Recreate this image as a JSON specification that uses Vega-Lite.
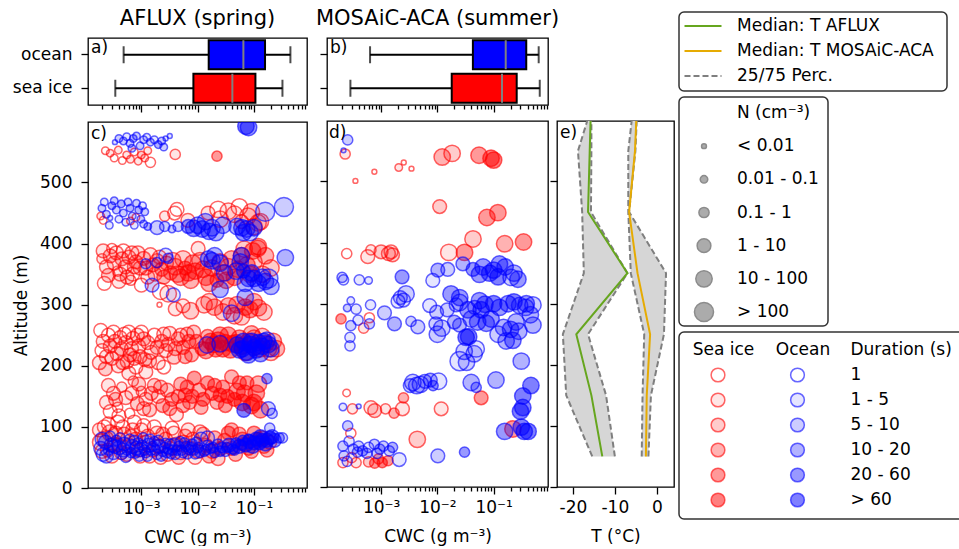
{
"$schema":"https://vega.github.io/schema/vega-lite/v6.json",
"background":"white",
"padding":{"left":11,"top":8,"right":0,"bottom":0},
"config":{
 "font":"DejaVu Sans",
 "view":{"stroke":"black","strokeWidth":1.3},
 "axis":{"labelFontSize":17,"titleFontSize":17,"titleFontWeight":"normal","labelColor":"black","titleColor":"black","tickColor":"black","tickWidth":1.3,"domain":false,"grid":false},
 "text":{"fontSize":17,"color":"black"}
},
"datasets":{
"box":[
{"c":"AFLUX","s":"ocean","lo":0.000485,"q1":0.0157,"med":0.0648,"q3":0.157,"hi":0.443},
{"c":"AFLUX","s":"sea ice","lo":0.000345,"q1":0.0084,"med":0.0413,"q3":0.106,"hi":0.32},
{"c":"MOSAiC","s":"ocean","lo":0.000637,"q1":0.0428,"med":0.164,"q3":0.38,"hi":0.632},
{"c":"MOSAiC","s":"sea ice","lo":0.000285,"q1":0.018,"med":0.141,"q3":0.257,"hi":0.66}
],
"tprof":[
{"camp":"AFLUX","alt":50,"med":-13.0,"p25":-15.4,"p75":-10.0},
{"camp":"AFLUX","alt":150,"med":-15.6,"p25":-21.6,"p75":-12.1},
{"camp":"AFLUX","alt":250,"med":-19.2,"p25":-22.4,"p75":-16.4},
{"camp":"AFLUX","alt":350,"med":-7.0,"p25":-17.4,"p75":-7.0},
{"camp":"AFLUX","alt":450,"med":-16.4,"p25":-17.8,"p75":-15.7},
{"camp":"AFLUX","alt":550,"med":-16.0,"p25":-18.8,"p75":-15.6},
{"camp":"AFLUX","alt":599,"med":-15.8,"p25":-16.6,"p75":-15.6},
{"camp":"MOSAiC-ACA","alt":50,"med":-2.6,"p25":-3.6,"p75":-2.0},
{"camp":"MOSAiC-ACA","alt":150,"med":-2.4,"p25":-3.4,"p75":-1.4},
{"camp":"MOSAiC-ACA","alt":250,"med":-1.6,"p25":-3.0,"p75":1.7},
{"camp":"MOSAiC-ACA","alt":350,"med":-4.6,"p25":-6.2,"p75":2.2},
{"camp":"MOSAiC-ACA","alt":450,"med":-6.6,"p25":-6.8,"p75":-6.6},
{"camp":"MOSAiC-ACA","alt":550,"med":-5.2,"p25":-6.8,"p75":-5.1},
{"camp":"MOSAiC-ACA","alt":599,"med":-4.9,"p25":-6.0,"p75":-4.8}
],
"cpts":[
{"s":"i","x":2.3e-4,"y":552,"n":2,"d":1},{"s":"i","x":2.8e-4,"y":548,"n":2,"d":2},{"s":"i","x":3.3e-4,"y":540,"n":2,"d":1},{"s":"i","x":3.9e-4,"y":553,"n":2,"d":2},{"s":"i","x":4.6e-4,"y":536,"n":2,"d":1},{"s":"i","x":5.5e-4,"y":545,"n":2,"d":2},{"s":"i","x":6.4e-4,"y":538,"n":2,"d":2},{"s":"i","x":7.5e-4,"y":550,"n":2,"d":1},{"s":"i","x":8.8e-4,"y":535,"n":2,"d":2},{"s":"i","x":1.0e-3,"y":545,"n":2,"d":3},{"s":"i","x":1.15e-3,"y":540,"n":2,"d":2},{"s":"i","x":1.3e-3,"y":552,"n":2,"d":2},{"s":"i","x":1.45e-3,"y":533,"n":3,"d":1},{"s":"i","x":4.0e-3,"y":546,"n":3,"d":2},{"s":"i","x":0.022,"y":543,"n":3,"d":5},
{"s":"i","x":1.9e-4,"y":445,"n":2,"d":2},{"s":"i","x":2.1e-4,"y":438,"n":2,"d":1},{"s":"i","x":6.4e-4,"y":437,"n":2,"d":2},{"s":"i","x":8.0e-4,"y":443,"n":2,"d":1},{"s":"i","x":2.6e-3,"y":445,"n":3,"d":2},{"s":"i","x":3.9e-3,"y":450,"n":4,"d":1},{"s":"i","x":4.3e-3,"y":456,"n":4,"d":1},{"s":"i","x":6.7e-3,"y":438,"n":4,"d":2},{"s":"i","x":0.0153,"y":450,"n":4,"d":2},{"s":"i","x":0.023,"y":456,"n":5,"d":1},{"s":"i","x":0.035,"y":453,"n":5,"d":2},{"s":"i","x":0.06,"y":436,"n":4,"d":3},{"s":"i","x":0.078,"y":445,"n":5,"d":2},{"s":"i","x":0.118,"y":434,"n":5,"d":2},{"s":"i","x":0.13,"y":436,"n":5,"d":3},
{"s":"i","x":0.025,"y":440,"n":5,"d":2},{"s":"i","x":0.045,"y":448,"n":5,"d":2},{"s":"i","x":0.09,"y":452,"n":5,"d":3},{"s":"i","x":0.1,"y":428,"n":5,"d":3},{"s":"i","x":0.055,"y":460,"n":5,"d":1},
{"s":"i","x":2.0e-4,"y":375,"n":3,"d":2},{"s":"i","x":2.4e-4,"y":362,"n":4,"d":2},{"s":"i","x":2.8e-4,"y":380,"n":4,"d":3},{"s":"i","x":3.3e-4,"y":368,"n":4,"d":2},{"s":"i","x":3.8e-4,"y":355,"n":3,"d":1},{"s":"i","x":4.5e-4,"y":375,"n":4,"d":3},{"s":"i","x":5.2e-4,"y":362,"n":4,"d":2},{"s":"i","x":6.0e-4,"y":378,"n":4,"d":2},{"s":"i","x":7.0e-4,"y":350,"n":4,"d":1},{"s":"i","x":8.0e-4,"y":370,"n":4,"d":3},{"s":"i","x":9.5e-4,"y":360,"n":4,"d":2},{"s":"i","x":1.1e-3,"y":376,"n":4,"d":3},{"s":"i","x":1.3e-3,"y":345,"n":4,"d":2},{"s":"i","x":1.6e-3,"y":365,"n":4,"d":4},{"s":"i","x":1.9e-3,"y":372,"n":4,"d":3},{"s":"i","x":2.3e-3,"y":358,"n":4,"d":4},{"s":"i","x":2.8e-3,"y":368,"n":4,"d":3},{"s":"i","x":3.3e-3,"y":352,"n":4,"d":4},{"s":"i","x":4.0e-3,"y":362,"n":5,"d":3},{"s":"i","x":5.0e-3,"y":345,"n":5,"d":4},{"s":"i","x":6.0e-3,"y":360,"n":4,"d":5},{"s":"i","x":7.5e-3,"y":340,"n":5,"d":4},{"s":"i","x":9.0e-3,"y":355,"n":5,"d":5},{"s":"i","x":0.011,"y":372,"n":5,"d":3},{"s":"i","x":0.014,"y":345,"n":5,"d":5},{"s":"i","x":0.018,"y":360,"n":5,"d":4},{"s":"i","x":0.022,"y":340,"n":4,"d":5},{"s":"i","x":0.028,"y":352,"n":5,"d":4},{"s":"i","x":0.035,"y":362,"n":5,"d":3},{"s":"i","x":0.045,"y":345,"n":5,"d":5},{"s":"i","x":0.06,"y":380,"n":5,"d":4},{"s":"i","x":0.075,"y":365,"n":5,"d":5},{"s":"i","x":0.095,"y":388,"n":5,"d":5},{"s":"i","x":0.12,"y":395,"n":5,"d":4},{"s":"i","x":0.14,"y":350,"n":5,"d":3},{"s":"i","x":2.2e-4,"y":335,"n":4,"d":1},{"s":"i","x":4.0e-4,"y":338,"n":4,"d":2},{"s":"i","x":1.0e-3,"y":332,"n":4,"d":1},{"s":"i","x":6.5e-4,"y":340,"n":3,"d":1},{"s":"i","x":2.2e-3,"y":322,"n":5,"d":1},{"s":"i","x":3.0e-3,"y":318,"n":5,"d":2},{"s":"i","x":0.0102,"y":392,"n":4,"d":2},{"s":"i","x":0.067,"y":391,"n":5,"d":3},{"s":"i","x":0.117,"y":392,"n":5,"d":4},{"s":"i","x":2.1e-3,"y":300,"n":1,"d":1},
{"s":"i","x":2.1e-4,"y":388,"n":4,"d":2},{"s":"i","x":2.6e-4,"y":348,"n":4,"d":3},{"s":"i","x":3.0e-4,"y":392,"n":3,"d":1},{"s":"i","x":3.6e-4,"y":385,"n":4,"d":2},{"s":"i","x":4.2e-4,"y":350,"n":4,"d":2},{"s":"i","x":4.8e-4,"y":388,"n":4,"d":1},{"s":"i","x":5.6e-4,"y":345,"n":4,"d":3},{"s":"i","x":6.8e-4,"y":385,"n":4,"d":2},{"s":"i","x":7.5e-4,"y":362,"n":4,"d":3},{"s":"i","x":8.7e-4,"y":385,"n":4,"d":2},{"s":"i","x":1.2e-3,"y":360,"n":4,"d":3},{"s":"i","x":1.45e-3,"y":382,"n":4,"d":2},{"s":"i","x":1.75e-3,"y":350,"n":4,"d":3},{"s":"i","x":2.1e-3,"y":378,"n":4,"d":2},{"s":"i","x":2.5e-3,"y":345,"n":4,"d":4},{"s":"i","x":3.6e-3,"y":372,"n":5,"d":3},{"s":"i","x":4.4e-3,"y":350,"n":5,"d":4},{"s":"i","x":5.5e-3,"y":375,"n":5,"d":3},{"s":"i","x":6.8e-3,"y":352,"n":5,"d":5},{"s":"i","x":8.2e-3,"y":368,"n":5,"d":4},{"s":"i","x":0.0125,"y":358,"n":5,"d":4},{"s":"i","x":0.016,"y":335,"n":5,"d":4},{"s":"i","x":0.025,"y":370,"n":5,"d":4},{"s":"i","x":0.032,"y":340,"n":5,"d":5},{"s":"i","x":0.04,"y":375,"n":5,"d":4},{"s":"i","x":0.052,"y":358,"n":5,"d":5},{"s":"i","x":0.085,"y":350,"n":5,"d":4},{"s":"i","x":0.1,"y":370,"n":5,"d":3},{"s":"i","x":0.16,"y":380,"n":5,"d":4},{"s":"i","x":0.2,"y":360,"n":5,"d":3},
{"s":"i","x":4.0e-3,"y":293,"n":4,"d":2},{"s":"i","x":5.5e-3,"y":298,"n":4,"d":2},{"s":"i","x":7.5e-3,"y":290,"n":5,"d":3},{"s":"i","x":0.013,"y":300,"n":5,"d":3},{"s":"i","x":0.02,"y":296,"n":5,"d":4},{"s":"i","x":0.028,"y":288,"n":5,"d":3},{"s":"i","x":0.05,"y":300,"n":5,"d":4},{"s":"i","x":0.085,"y":292,"n":5,"d":5},{"s":"i","x":0.12,"y":295,"n":5,"d":4},{"s":"i","x":0.06,"y":280,"n":5,"d":3},
{"s":"i","x":0.016,"y":305,"n":5,"d":3},{"s":"i","x":0.035,"y":298,"n":5,"d":4},{"s":"i","x":0.1,"y":305,"n":5,"d":4},{"s":"i","x":0.15,"y":288,"n":5,"d":3},{"s":"i","x":0.07,"y":296,"n":5,"d":5},{"s":"i","x":0.045,"y":282,"n":5,"d":3},
{"s":"i","x":1.8e-4,"y":205,"n":4,"d":2},{"s":"i","x":2.0e-4,"y":225,"n":4,"d":1},{"s":"i","x":2.3e-4,"y":195,"n":4,"d":3},{"s":"i","x":2.6e-4,"y":250,"n":4,"d":1},{"s":"i","x":3.0e-4,"y":212,"n":4,"d":2},{"s":"i","x":3.4e-4,"y":240,"n":4,"d":2},{"s":"i","x":3.9e-4,"y":200,"n":4,"d":2},{"s":"i","x":4.4e-4,"y":228,"n":4,"d":3},{"s":"i","x":5.0e-4,"y":252,"n":4,"d":1},{"s":"i","x":5.6e-4,"y":207,"n":4,"d":2},{"s":"i","x":6.3e-4,"y":218,"n":4,"d":3},{"s":"i","x":7.1e-4,"y":245,"n":4,"d":2},{"s":"i","x":8.0e-4,"y":198,"n":4,"d":1},{"s":"i","x":9.0e-4,"y":232,"n":4,"d":2},{"s":"i","x":1.0e-3,"y":255,"n":4,"d":1},{"s":"i","x":1.15e-3,"y":210,"n":4,"d":3},{"s":"i","x":1.3e-3,"y":238,"n":4,"d":2},{"s":"i","x":1.5e-3,"y":222,"n":4,"d":2},{"s":"i","x":1.7e-3,"y":250,"n":4,"d":1},{"s":"i","x":2.0e-3,"y":205,"n":4,"d":2},{"s":"i","x":2.3e-3,"y":240,"n":4,"d":3},{"s":"i","x":2.7e-3,"y":225,"n":4,"d":2},{"s":"i","x":3.2e-3,"y":253,"n":4,"d":2},{"s":"i","x":3.8e-3,"y":214,"n":4,"d":3},{"s":"i","x":4.5e-3,"y":244,"n":4,"d":3},{"s":"i","x":5.5e-3,"y":230,"n":4,"d":4},{"s":"i","x":6.5e-3,"y":252,"n":4,"d":3},{"s":"i","x":7.8e-3,"y":218,"n":4,"d":4},{"s":"i","x":9.5e-3,"y":240,"n":4,"d":5},{"s":"i","x":0.012,"y":228,"n":4,"d":5},{"s":"i","x":0.015,"y":248,"n":4,"d":4},{"s":"i","x":0.019,"y":235,"n":5,"d":6},{"s":"i","x":0.023,"y":242,"n":5,"d":6},{"s":"i","x":0.028,"y":228,"n":5,"d":6},{"s":"i","x":0.035,"y":250,"n":5,"d":5},{"s":"i","x":0.042,"y":236,"n":5,"d":6},{"s":"i","x":0.055,"y":245,"n":5,"d":5},{"s":"i","x":0.07,"y":222,"n":5,"d":4},{"s":"i","x":0.09,"y":252,"n":5,"d":4},{"s":"i","x":0.11,"y":232,"n":5,"d":4},{"s":"i","x":0.14,"y":248,"n":5,"d":3},{"s":"i","x":0.18,"y":228,"n":5,"d":3},{"s":"i","x":0.22,"y":240,"n":5,"d":4},{"s":"i","x":0.2,"y":222,"n":5,"d":3},{"s":"i","x":2.1e-4,"y":240,"n":4,"d":2},{"s":"i","x":1.2e-3,"y":190,"n":4,"d":2},{"s":"i","x":6.0e-4,"y":188,"n":4,"d":2},{"s":"i","x":2.5e-3,"y":198,"n":4,"d":1},
{"s":"i","x":1.9e-4,"y":258,"n":4,"d":1},{"s":"i","x":2.4e-4,"y":215,"n":4,"d":2},{"s":"i","x":2.8e-4,"y":232,"n":4,"d":3},{"s":"i","x":3.2e-4,"y":255,"n":4,"d":1},{"s":"i","x":3.7e-4,"y":220,"n":4,"d":2},{"s":"i","x":4.2e-4,"y":246,"n":4,"d":2},{"s":"i","x":4.7e-4,"y":205,"n":4,"d":3},{"s":"i","x":5.3e-4,"y":238,"n":4,"d":2},{"s":"i","x":6.0e-4,"y":255,"n":4,"d":1},{"s":"i","x":6.7e-4,"y":228,"n":4,"d":2},{"s":"i","x":7.5e-4,"y":212,"n":4,"d":3},{"s":"i","x":8.5e-4,"y":250,"n":4,"d":2},{"s":"i","x":9.5e-4,"y":215,"n":4,"d":2},{"s":"i","x":1.1e-3,"y":244,"n":4,"d":3},{"s":"i","x":1.4e-3,"y":208,"n":4,"d":2},{"s":"i","x":1.9e-3,"y":230,"n":4,"d":3},{"s":"i","x":2.5e-3,"y":252,"n":4,"d":2},{"s":"i","x":3.0e-3,"y":235,"n":4,"d":3},{"s":"i","x":4.0e-3,"y":228,"n":4,"d":3},{"s":"i","x":5.0e-3,"y":250,"n":4,"d":2},{"s":"i","x":6.0e-3,"y":215,"n":4,"d":4},{"s":"i","x":7.0e-3,"y":240,"n":4,"d":4},{"s":"i","x":0.0085,"y":255,"n":4,"d":3},{"s":"i","x":0.014,"y":225,"n":5,"d":5},{"s":"i","x":0.017,"y":240,"n":5,"d":6},{"s":"i","x":0.021,"y":228,"n":5,"d":6},{"s":"i","x":0.025,"y":250,"n":5,"d":5},{"s":"i","x":0.031,"y":238,"n":5,"d":6},{"s":"i","x":0.038,"y":226,"n":5,"d":6},{"s":"i","x":0.048,"y":238,"n":5,"d":5},{"s":"i","x":0.06,"y":232,"n":5,"d":6},{"s":"i","x":0.08,"y":240,"n":5,"d":5},{"s":"i","x":0.1,"y":245,"n":5,"d":4},{"s":"i","x":0.13,"y":228,"n":5,"d":4},{"s":"i","x":0.16,"y":236,"n":5,"d":4},{"s":"i","x":0.25,"y":228,"n":5,"d":4},
{"s":"i","x":2.4e-4,"y":140,"n":4,"d":2},{"s":"i","x":2.8e-4,"y":125,"n":4,"d":1},{"s":"i","x":3.2e-4,"y":155,"n":4,"d":2},{"s":"i","x":3.8e-4,"y":132,"n":3,"d":1},{"s":"i","x":4.5e-4,"y":165,"n":3,"d":2},{"s":"i","x":5.3e-4,"y":148,"n":4,"d":2},{"s":"i","x":6.2e-4,"y":122,"n":3,"d":1},{"s":"i","x":7.2e-4,"y":175,"n":3,"d":2},{"s":"i","x":8.5e-4,"y":138,"n":4,"d":3},{"s":"i","x":1.0e-3,"y":158,"n":3,"d":2},{"s":"i","x":1.2e-3,"y":145,"n":4,"d":2},{"s":"i","x":1.4e-3,"y":128,"n":4,"d":3},{"s":"i","x":1.7e-3,"y":168,"n":4,"d":3},{"s":"i","x":2.0e-3,"y":150,"n":4,"d":2},{"s":"i","x":2.4e-3,"y":135,"n":4,"d":4},{"s":"i","x":2.9e-3,"y":160,"n":4,"d":3},{"s":"i","x":3.5e-3,"y":145,"n":4,"d":4},{"s":"i","x":4.2e-3,"y":120,"n":4,"d":2},{"s":"i","x":5.0e-3,"y":170,"n":4,"d":4},{"s":"i","x":6.0e-3,"y":152,"n":4,"d":4},{"s":"i","x":7.2e-3,"y":140,"n":4,"d":4},{"s":"i","x":8.7e-3,"y":180,"n":4,"d":5},{"s":"i","x":0.0105,"y":160,"n":4,"d":4},{"s":"i","x":0.0125,"y":145,"n":4,"d":6},{"s":"i","x":0.015,"y":172,"n":4,"d":5},{"s":"i","x":0.018,"y":155,"n":4,"d":5},{"s":"i","x":0.022,"y":140,"n":4,"d":4},{"s":"i","x":0.028,"y":165,"n":4,"d":5},{"s":"i","x":0.034,"y":150,"n":4,"d":6},{"s":"i","x":0.04,"y":182,"n":4,"d":4},{"s":"i","x":0.05,"y":158,"n":5,"d":5},{"s":"i","x":0.062,"y":140,"n":5,"d":6},{"s":"i","x":0.075,"y":172,"n":4,"d":5},{"s":"i","x":0.09,"y":135,"n":5,"d":6},{"s":"i","x":0.11,"y":155,"n":5,"d":5},{"s":"i","x":0.13,"y":128,"n":5,"d":5},{"s":"i","x":0.04,"y":95,"n":4,"d":4},
{"s":"i","x":2.6e-4,"y":168,"n":4,"d":2},{"s":"i","x":3.5e-4,"y":145,"n":4,"d":3},{"s":"i","x":4.0e-4,"y":118,"n":4,"d":1},{"s":"i","x":6.8e-4,"y":155,"n":4,"d":2},{"s":"i","x":9.0e-4,"y":170,"n":4,"d":3},{"s":"i","x":1.1e-3,"y":130,"n":4,"d":2},{"s":"i","x":1.5e-3,"y":155,"n":4,"d":3},{"s":"i","x":2.2e-3,"y":165,"n":4,"d":3},{"s":"i","x":3.2e-3,"y":130,"n":4,"d":4},{"s":"i","x":4.5e-3,"y":150,"n":4,"d":4},{"s":"i","x":5.5e-3,"y":135,"n":4,"d":4},{"s":"i","x":6.5e-3,"y":165,"n":4,"d":5},{"s":"i","x":8.0e-3,"y":150,"n":4,"d":5},{"s":"i","x":0.0115,"y":132,"n":4,"d":4},{"s":"i","x":0.02,"y":168,"n":4,"d":5},{"s":"i","x":0.025,"y":152,"n":4,"d":6},{"s":"i","x":0.031,"y":135,"n":4,"d":5},{"s":"i","x":0.045,"y":145,"n":4,"d":6},{"s":"i","x":0.055,"y":172,"n":4,"d":5},{"s":"i","x":0.068,"y":155,"n":5,"d":5},{"s":"i","x":0.1,"y":140,"n":5,"d":6},{"s":"i","x":0.12,"y":170,"n":5,"d":4},
{"s":"i","x":1.8e-4,"y":95,"n":4,"d":2},{"s":"i","x":2.0e-4,"y":60,"n":4,"d":1},{"s":"i","x":2.3e-4,"y":80,"n":5,"d":2},{"s":"i","x":2.6e-4,"y":105,"n":4,"d":1},{"s":"i","x":3.0e-4,"y":52,"n":4,"d":2},{"s":"i","x":3.5e-4,"y":90,"n":4,"d":2},{"s":"i","x":4.0e-4,"y":70,"n":4,"d":3},{"s":"i","x":4.7e-4,"y":100,"n":4,"d":1},{"s":"i","x":5.5e-4,"y":55,"n":4,"d":2},{"s":"i","x":6.5e-4,"y":85,"n":4,"d":2},{"s":"i","x":7.5e-4,"y":108,"n":4,"d":1},{"s":"i","x":8.8e-4,"y":62,"n":4,"d":3},{"s":"i","x":1.0e-3,"y":95,"n":4,"d":2},{"s":"i","x":1.2e-3,"y":75,"n":4,"d":2},{"s":"i","x":1.4e-3,"y":52,"n":4,"d":2},{"s":"i","x":1.7e-3,"y":100,"n":4,"d":1},{"s":"i","x":2.0e-3,"y":68,"n":4,"d":2},{"s":"i","x":2.4e-3,"y":88,"n":4,"d":3},{"s":"i","x":2.9e-3,"y":55,"n":4,"d":2},{"s":"i","x":3.5e-3,"y":98,"n":4,"d":1},{"s":"i","x":4.2e-3,"y":72,"n":4,"d":3},{"s":"i","x":5.0e-3,"y":58,"n":4,"d":2},{"s":"i","x":6.0e-3,"y":85,"n":4,"d":3},{"s":"i","x":7.5e-3,"y":65,"n":4,"d":3},{"s":"i","x":9.0e-3,"y":50,"n":4,"d":2},{"s":"i","x":0.011,"y":92,"n":4,"d":2},{"s":"i","x":0.014,"y":70,"n":4,"d":4},{"s":"i","x":0.018,"y":60,"n":4,"d":3},{"s":"i","x":0.023,"y":48,"n":4,"d":3},{"s":"i","x":0.03,"y":78,"n":4,"d":4},{"s":"i","x":0.04,"y":65,"n":4,"d":5},{"s":"i","x":0.055,"y":88,"n":4,"d":4},{"s":"i","x":0.07,"y":72,"n":4,"d":5},{"s":"i","x":0.09,"y":60,"n":4,"d":4},{"s":"i","x":0.12,"y":80,"n":4,"d":5},{"s":"i","x":0.15,"y":68,"n":4,"d":4},{"s":"i","x":0.19,"y":75,"n":4,"d":3},
{"s":"i","x":1.9e-4,"y":75,"n":5,"d":2},{"s":"i","x":2.2e-4,"y":100,"n":4,"d":1},{"s":"i","x":2.5e-4,"y":62,"n":4,"d":2},{"s":"i","x":2.8e-4,"y":90,"n":5,"d":3},{"s":"i","x":3.3e-4,"y":72,"n":4,"d":2},{"s":"i","x":3.8e-4,"y":108,"n":4,"d":1},{"s":"i","x":4.4e-4,"y":58,"n":4,"d":2},{"s":"i","x":5.0e-4,"y":88,"n":4,"d":3},{"s":"i","x":6.0e-4,"y":70,"n":4,"d":2},{"s":"i","x":7.0e-4,"y":95,"n":4,"d":2},{"s":"i","x":8.0e-4,"y":80,"n":4,"d":3},{"s":"i","x":9.5e-4,"y":52,"n":4,"d":2},{"s":"i","x":1.1e-3,"y":102,"n":4,"d":1},{"s":"i","x":1.3e-3,"y":85,"n":4,"d":2},{"s":"i","x":1.6e-3,"y":62,"n":4,"d":3},{"s":"i","x":1.9e-3,"y":90,"n":4,"d":2},{"s":"i","x":2.2e-3,"y":50,"n":4,"d":2},{"s":"i","x":2.7e-3,"y":80,"n":4,"d":3},{"s":"i","x":3.2e-3,"y":65,"n":4,"d":2},{"s":"i","x":3.8e-3,"y":90,"n":4,"d":2},{"s":"i","x":4.6e-3,"y":50,"n":4,"d":3},{"s":"i","x":5.5e-3,"y":75,"n":4,"d":3},{"s":"i","x":6.8e-3,"y":95,"n":4,"d":2},{"s":"i","x":8.2e-3,"y":80,"n":4,"d":3},{"s":"i","x":0.01,"y":60,"n":4,"d":3},{"s":"i","x":0.0125,"y":88,"n":4,"d":3},{"s":"i","x":0.016,"y":52,"n":4,"d":4},{"s":"i","x":0.02,"y":82,"n":4,"d":4},{"s":"i","x":0.026,"y":65,"n":4,"d":4},{"s":"i","x":0.035,"y":90,"n":4,"d":5},{"s":"i","x":0.047,"y":55,"n":4,"d":4},{"s":"i","x":0.062,"y":80,"n":4,"d":5},{"s":"i","x":0.08,"y":65,"n":4,"d":5},{"s":"i","x":0.1,"y":90,"n":4,"d":5},{"s":"i","x":0.14,"y":82,"n":4,"d":4},{"s":"i","x":0.17,"y":62,"n":4,"d":4},
{"s":"o","x":3.4e-4,"y":566,"n":1,"d":2},{"s":"o","x":4.0e-4,"y":572,"n":2,"d":3},{"s":"o","x":4.8e-4,"y":568,"n":2,"d":3},{"s":"o","x":5.5e-4,"y":575,"n":2,"d":2},{"s":"o","x":6.3e-4,"y":564,"n":2,"d":3},{"s":"o","x":7.2e-4,"y":572,"n":2,"d":4},{"s":"o","x":8.2e-4,"y":576,"n":2,"d":3},{"s":"o","x":9.5e-4,"y":560,"n":2,"d":3},{"s":"o","x":1.1e-3,"y":570,"n":2,"d":3},{"s":"o","x":1.25e-3,"y":574,"n":2,"d":2},{"s":"o","x":1.45e-3,"y":566,"n":2,"d":3},{"s":"o","x":1.7e-3,"y":570,"n":2,"d":2},{"s":"o","x":2.0e-3,"y":562,"n":2,"d":4},{"s":"o","x":2.3e-3,"y":568,"n":2,"d":3},{"s":"o","x":2.7e-3,"y":572,"n":1,"d":2},{"s":"o","x":3.2e-3,"y":576,"n":1,"d":2},{"s":"o","x":2.5e-3,"y":558,"n":2,"d":3},{"s":"o","x":6.8e-4,"y":556,"n":2,"d":3},{"s":"o","x":0.072,"y":592,"n":5,"d":6},{"s":"o","x":0.08,"y":590,"n":5,"d":5},
{"s":"o","x":2.0e-4,"y":458,"n":2,"d":3},{"s":"o","x":2.2e-4,"y":468,"n":2,"d":2},{"s":"o","x":2.4e-4,"y":448,"n":2,"d":3},{"s":"o","x":2.7e-4,"y":430,"n":2,"d":2},{"s":"o","x":3.0e-4,"y":462,"n":2,"d":4},{"s":"o","x":3.3e-4,"y":470,"n":2,"d":3},{"s":"o","x":3.6e-4,"y":455,"n":2,"d":3},{"s":"o","x":4.0e-4,"y":440,"n":2,"d":2},{"s":"o","x":4.4e-4,"y":465,"n":2,"d":4},{"s":"o","x":4.8e-4,"y":450,"n":2,"d":3},{"s":"o","x":5.3e-4,"y":435,"n":2,"d":2},{"s":"o","x":5.8e-4,"y":468,"n":2,"d":3},{"s":"o","x":6.3e-4,"y":458,"n":2,"d":4},{"s":"o","x":6.9e-4,"y":445,"n":2,"d":3},{"s":"o","x":7.5e-4,"y":430,"n":2,"d":2},{"s":"o","x":8.2e-4,"y":466,"n":2,"d":3},{"s":"o","x":9.0e-4,"y":455,"n":2,"d":4},{"s":"o","x":9.8e-4,"y":440,"n":2,"d":3},{"s":"o","x":1.05e-3,"y":462,"n":2,"d":2},{"s":"o","x":1.15e-3,"y":452,"n":2,"d":3},{"s":"o","x":1.3e-3,"y":428,"n":2,"d":4},{"s":"o","x":1.1e-3,"y":432,"n":2,"d":3},{"s":"o","x":2.8e-4,"y":442,"n":1,"d":2},
{"s":"o","x":1.9e-3,"y":426,"n":4,"d":3},{"s":"o","x":2.6e-3,"y":428,"n":3,"d":3},{"s":"o","x":3.5e-3,"y":424,"n":2,"d":3},{"s":"o","x":4.5e-3,"y":428,"n":3,"d":3},{"s":"o","x":6.8e-3,"y":428,"n":4,"d":5},{"s":"o","x":8.5e-3,"y":425,"n":5,"d":5},{"s":"o","x":0.0137,"y":436,"n":5,"d":4},{"s":"o","x":0.016,"y":420,"n":5,"d":5},{"s":"o","x":0.021,"y":418,"n":5,"d":4},{"s":"o","x":0.018,"y":426,"n":5,"d":3},{"s":"o","x":0.061,"y":426,"n":5,"d":5},{"s":"o","x":0.074,"y":424,"n":5,"d":4},{"s":"o","x":0.085,"y":418,"n":5,"d":3},{"s":"o","x":0.158,"y":452,"n":6,"d":3},{"s":"o","x":0.34,"y":460,"n":6,"d":3},
{"s":"o","x":0.01,"y":430,"n":5,"d":4},{"s":"o","x":0.012,"y":424,"n":5,"d":5},{"s":"o","x":0.028,"y":430,"n":5,"d":4},{"s":"o","x":0.05,"y":428,"n":5,"d":4},{"s":"o","x":0.1,"y":426,"n":5,"d":5},{"s":"o","x":0.065,"y":418,"n":5,"d":5},
{"s":"o","x":1.2e-3,"y":367,"n":3,"d":3},{"s":"o","x":1.9e-3,"y":369,"n":3,"d":3},{"s":"o","x":2.7e-3,"y":381,"n":4,"d":2},{"s":"o","x":3.0e-3,"y":376,"n":3,"d":3},{"s":"o","x":1.55e-3,"y":332,"n":4,"d":3},{"s":"o","x":3.7e-3,"y":316,"n":4,"d":2},{"s":"o","x":0.0157,"y":375,"n":5,"d":5},{"s":"o","x":0.018,"y":372,"n":5,"d":4},{"s":"o","x":0.025,"y":368,"n":5,"d":3},{"s":"o","x":0.057,"y":370,"n":5,"d":4},{"s":"o","x":0.06,"y":380,"n":5,"d":5},{"s":"o","x":0.048,"y":355,"n":5,"d":3},{"s":"o","x":0.08,"y":343,"n":5,"d":5},{"s":"o","x":0.1,"y":343,"n":5,"d":5},{"s":"o","x":0.14,"y":345,"n":5,"d":4},{"s":"o","x":0.18,"y":343,"n":6,"d":3},{"s":"o","x":0.36,"y":377,"n":5,"d":4},{"s":"o","x":0.025,"y":325,"n":5,"d":4},{"s":"o","x":0.07,"y":312,"n":5,"d":4},{"s":"o","x":0.04,"y":286,"n":5,"d":3},{"s":"o","x":0.065,"y":355,"n":4,"d":6},
{"s":"o","x":0.02,"y":380,"n":5,"d":4},{"s":"o","x":0.03,"y":352,"n":5,"d":4},{"s":"o","x":0.09,"y":352,"n":5,"d":5},{"s":"o","x":0.12,"y":335,"n":5,"d":5},{"s":"o","x":0.16,"y":338,"n":5,"d":5},{"s":"o","x":0.07,"y":335,"n":5,"d":4},{"s":"o","x":0.2,"y":330,"n":5,"d":4},
{"s":"o","x":0.0147,"y":234,"n":5,"d":3},{"s":"o","x":0.05,"y":234,"n":5,"d":5},{"s":"o","x":0.062,"y":228,"n":5,"d":6},{"s":"o","x":0.075,"y":222,"n":5,"d":6},{"s":"o","x":0.085,"y":235,"n":5,"d":6},{"s":"o","x":0.1,"y":230,"n":5,"d":6},{"s":"o","x":0.12,"y":238,"n":5,"d":5},{"s":"o","x":0.14,"y":232,"n":5,"d":6},{"s":"o","x":0.17,"y":242,"n":5,"d":4},{"s":"o","x":0.18,"y":235,"n":5,"d":5},{"s":"o","x":0.2,"y":228,"n":5,"d":5},{"s":"o","x":0.065,"y":240,"n":5,"d":6},{"s":"o","x":0.08,"y":218,"n":5,"d":5},
{"s":"o","x":0.055,"y":226,"n":5,"d":6},{"s":"o","x":0.09,"y":240,"n":5,"d":6},{"s":"o","x":0.11,"y":226,"n":5,"d":6},{"s":"o","x":0.15,"y":240,"n":5,"d":6},{"s":"o","x":0.13,"y":220,"n":5,"d":5},{"s":"o","x":0.025,"y":236,"n":5,"d":3},
{"s":"o","x":0.17,"y":179,"n":3,"d":5},{"s":"o","x":0.066,"y":127,"n":4,"d":6},{"s":"o","x":0.18,"y":130,"n":4,"d":3},{"s":"o","x":0.21,"y":122,"n":3,"d":3},{"s":"o","x":0.19,"y":98,"n":3,"d":3},
{"s":"o","x":1.9e-4,"y":65,"n":4,"d":3},{"s":"o","x":2.1e-4,"y":55,"n":4,"d":2},{"s":"o","x":2.3e-4,"y":75,"n":4,"d":4},{"s":"o","x":2.6e-4,"y":62,"n":3,"d":3},{"s":"o","x":2.9e-4,"y":70,"n":4,"d":2},{"s":"o","x":3.2e-4,"y":58,"n":4,"d":3},{"s":"o","x":3.6e-4,"y":78,"n":3,"d":4},{"s":"o","x":4.0e-4,"y":66,"n":4,"d":3},{"s":"o","x":4.5e-4,"y":55,"n":3,"d":2},{"s":"o","x":5.0e-4,"y":72,"n":4,"d":4},{"s":"o","x":5.6e-4,"y":62,"n":3,"d":3},{"s":"o","x":6.2e-4,"y":80,"n":3,"d":2},{"s":"o","x":7.0e-4,"y":68,"n":4,"d":3},{"s":"o","x":7.8e-4,"y":57,"n":3,"d":4},{"s":"o","x":8.7e-4,"y":74,"n":3,"d":3},{"s":"o","x":9.7e-4,"y":63,"n":4,"d":2},{"s":"o","x":1.08e-3,"y":82,"n":3,"d":3},{"s":"o","x":1.2e-3,"y":58,"n":3,"d":4},{"s":"o","x":1.35e-3,"y":70,"n":4,"d":3},{"s":"o","x":1.5e-3,"y":62,"n":3,"d":3},{"s":"o","x":1.7e-3,"y":76,"n":3,"d":4},{"s":"o","x":1.9e-3,"y":55,"n":3,"d":2},{"s":"o","x":2.1e-3,"y":68,"n":4,"d":3},{"s":"o","x":2.4e-3,"y":60,"n":3,"d":4},{"s":"o","x":2.7e-3,"y":73,"n":3,"d":3},{"s":"o","x":3.0e-3,"y":64,"n":3,"d":3},{"s":"o","x":3.4e-3,"y":56,"n":3,"d":4},{"s":"o","x":3.8e-3,"y":70,"n":4,"d":3},{"s":"o","x":4.3e-3,"y":62,"n":3,"d":4},{"s":"o","x":4.9e-3,"y":76,"n":3,"d":3},{"s":"o","x":5.5e-3,"y":58,"n":3,"d":3},{"s":"o","x":6.2e-3,"y":68,"n":3,"d":4},{"s":"o","x":7.0e-3,"y":63,"n":3,"d":3},{"s":"o","x":8.0e-3,"y":72,"n":3,"d":4},{"s":"o","x":9.0e-3,"y":56,"n":3,"d":3},{"s":"o","x":0.0102,"y":66,"n":3,"d":4},{"s":"o","x":0.0115,"y":80,"n":4,"d":2},{"s":"o","x":0.013,"y":60,"n":3,"d":4},{"s":"o","x":0.015,"y":70,"n":3,"d":3},{"s":"o","x":0.017,"y":65,"n":3,"d":4},{"s":"o","x":0.02,"y":58,"n":3,"d":5},{"s":"o","x":0.023,"y":72,"n":3,"d":4},{"s":"o","x":0.027,"y":66,"n":3,"d":5},{"s":"o","x":0.031,"y":60,"n":3,"d":4},{"s":"o","x":0.036,"y":70,"n":4,"d":5},{"s":"o","x":0.042,"y":64,"n":3,"d":5},{"s":"o","x":0.048,"y":74,"n":3,"d":6},{"s":"o","x":0.055,"y":68,"n":4,"d":5},{"s":"o","x":0.063,"y":78,"n":3,"d":6},{"s":"o","x":0.072,"y":70,"n":4,"d":6},{"s":"o","x":0.083,"y":76,"n":4,"d":5},{"s":"o","x":0.095,"y":68,"n":4,"d":6},{"s":"o","x":0.11,"y":80,"n":4,"d":6},{"s":"o","x":0.125,"y":74,"n":4,"d":6},{"s":"o","x":0.14,"y":78,"n":4,"d":6},{"s":"o","x":0.16,"y":72,"n":4,"d":5},{"s":"o","x":0.19,"y":82,"n":4,"d":6},{"s":"o","x":0.23,"y":78,"n":4,"d":5},{"s":"o","x":0.28,"y":82,"n":3,"d":4},{"s":"o","x":0.32,"y":82,"n":3,"d":3},{"s":"o","x":0.015,"y":82,"n":4,"d":2},
{"s":"o","x":2.0e-4,"y":80,"n":4,"d":3},{"s":"o","x":2.4e-4,"y":52,"n":4,"d":3},{"s":"o","x":2.8e-4,"y":85,"n":3,"d":3},{"s":"o","x":3.4e-4,"y":68,"n":4,"d":4},{"s":"o","x":4.2e-4,"y":82,"n":3,"d":2},{"s":"o","x":4.8e-4,"y":62,"n":4,"d":3},{"s":"o","x":5.3e-4,"y":50,"n":3,"d":3},{"s":"o","x":6.6e-4,"y":58,"n":3,"d":4},{"s":"o","x":7.4e-4,"y":78,"n":3,"d":3},{"s":"o","x":8.2e-4,"y":65,"n":4,"d":3},{"s":"o","x":9.2e-4,"y":52,"n":3,"d":3},{"s":"o","x":1.03e-3,"y":70,"n":3,"d":4},{"s":"o","x":1.15e-3,"y":62,"n":3,"d":3},{"s":"o","x":1.28e-3,"y":52,"n":3,"d":3},{"s":"o","x":1.42e-3,"y":80,"n":3,"d":3},{"s":"o","x":1.6e-3,"y":68,"n":3,"d":4},{"s":"o","x":1.8e-3,"y":62,"n":3,"d":3},{"s":"o","x":2.0e-3,"y":78,"n":3,"d":3},{"s":"o","x":2.25e-3,"y":52,"n":3,"d":4},{"s":"o","x":2.55e-3,"y":66,"n":3,"d":3},{"s":"o","x":2.85e-3,"y":58,"n":3,"d":4},{"s":"o","x":3.2e-3,"y":72,"n":3,"d":3},{"s":"o","x":3.6e-3,"y":62,"n":3,"d":4},{"s":"o","x":4.0e-3,"y":55,"n":3,"d":3},{"s":"o","x":4.6e-3,"y":68,"n":3,"d":4},{"s":"o","x":5.2e-3,"y":62,"n":3,"d":3},{"s":"o","x":5.8e-3,"y":74,"n":3,"d":4},{"s":"o","x":6.6e-3,"y":56,"n":3,"d":4},{"s":"o","x":7.5e-3,"y":66,"n":3,"d":3},{"s":"o","x":8.5e-3,"y":62,"n":3,"d":4},{"s":"o","x":9.5e-3,"y":75,"n":3,"d":4},{"s":"o","x":0.011,"y":58,"n":3,"d":5},{"s":"o","x":0.014,"y":62,"n":3,"d":4},{"s":"o","x":0.019,"y":66,"n":3,"d":5},{"s":"o","x":0.025,"y":60,"n":3,"d":5},{"s":"o","x":0.033,"y":66,"n":3,"d":5},{"s":"o","x":0.045,"y":62,"n":3,"d":6},{"s":"o","x":0.06,"y":70,"n":3,"d":6},{"s":"o","x":0.08,"y":80,"n":3,"d":6},{"s":"o","x":0.1,"y":74,"n":4,"d":6},{"s":"o","x":0.13,"y":84,"n":4,"d":6},{"s":"o","x":0.17,"y":78,"n":4,"d":6},{"s":"o","x":0.21,"y":84,"n":4,"d":5}
],
"dpts":[
{"s":"i","x":2.3e-4,"y":545,"n":3,"d":2},{"s":"i","x":3.5e-4,"y":501,"n":1,"d":1},{"s":"i","x":7.6e-4,"y":516,"n":1,"d":1},{"s":"i","x":2.06e-3,"y":523,"n":2,"d":2},{"s":"i","x":2.53e-3,"y":531,"n":1,"d":1},{"s":"i","x":3.47e-3,"y":521,"n":1,"d":1},{"s":"i","x":0.0122,"y":540,"n":5,"d":4},{"s":"i","x":0.0183,"y":546,"n":5,"d":3},{"s":"i","x":0.055,"y":543,"n":5,"d":5},{"s":"i","x":0.09,"y":538,"n":5,"d":6},{"s":"i","x":0.1,"y":535,"n":5,"d":6},{"s":"i","x":0.011,"y":459,"n":4,"d":3},{"s":"i","x":0.076,"y":441,"n":5,"d":5},{"s":"i","x":0.119,"y":449,"n":5,"d":5},{"s":"i","x":0.043,"y":406,"n":5,"d":3},{"s":"i","x":0.157,"y":398,"n":5,"d":4},{"s":"i","x":0.34,"y":401,"n":5,"d":5},{"s":"i","x":0.016,"y":384,"n":5,"d":2},{"s":"i","x":0.0304,"y":384,"n":5,"d":5},{"s":"i","x":2.45e-4,"y":382,"n":3,"d":1},{"s":"i","x":5.8e-4,"y":377,"n":4,"d":2},{"s":"i","x":6.6e-4,"y":388,"n":3,"d":2},{"s":"i","x":1.0e-3,"y":385,"n":4,"d":3},{"s":"i","x":1.5e-3,"y":385,"n":4,"d":2},{"s":"i","x":1.6e-3,"y":380,"n":4,"d":3},{"s":"i","x":1.35e-3,"y":382,"n":4,"d":2},
{"s":"i","x":1.94e-4,"y":275,"n":3,"d":5},{"s":"i","x":4.9e-4,"y":260,"n":3,"d":2},{"s":"i","x":6.2e-4,"y":277,"n":3,"d":1},
{"s":"i","x":2.44e-4,"y":154,"n":2,"d":1},{"s":"i","x":3.1e-4,"y":128,"n":3,"d":2},{"s":"i","x":6.6e-4,"y":130,"n":4,"d":2},{"s":"i","x":7.7e-4,"y":125,"n":4,"d":3},{"s":"i","x":1.2e-3,"y":128,"n":3,"d":2},{"s":"i","x":1.7e-3,"y":121,"n":3,"d":4},{"s":"i","x":2.4e-3,"y":128,"n":4,"d":2},{"s":"i","x":2.5e-3,"y":146,"n":3,"d":4},{"s":"i","x":0.0117,"y":128,"n":4,"d":2},{"s":"i","x":0.06,"y":146,"n":4,"d":5},{"s":"i","x":4.4e-3,"y":78,"n":5,"d":3},{"s":"i","x":0.22,"y":95,"n":5,"d":5},
{"s":"i","x":2.1e-4,"y":40,"n":3,"d":2},{"s":"i","x":3.6e-4,"y":40,"n":3,"d":2},{"s":"i","x":6.0e-4,"y":41,"n":3,"d":3},{"s":"i","x":7.7e-4,"y":39,"n":3,"d":5},{"s":"i","x":1.05e-3,"y":40,"n":3,"d":6},{"s":"i","x":1.33e-3,"y":43,"n":3,"d":5},{"s":"i","x":3.0e-4,"y":48,"n":3,"d":2},{"s":"i","x":9.0e-4,"y":46,"n":3,"d":4},{"s":"i","x":2.9e-4,"y":88,"n":3,"d":1},
{"s":"o","x":2.55e-4,"y":568,"n":3,"d":3},{"s":"o","x":2.15e-4,"y":551,"n":1,"d":2},
{"s":"o","x":2.03e-4,"y":343,"n":3,"d":3},{"s":"o","x":2.15e-4,"y":339,"n":3,"d":2},{"s":"o","x":4.1e-4,"y":339,"n":3,"d":2},{"s":"o","x":6.0e-4,"y":338,"n":2,"d":2},{"s":"o","x":2.36e-3,"y":344,"n":4,"d":5},{"s":"o","x":2.78e-3,"y":316,"n":5,"d":3},{"s":"o","x":2.2e-3,"y":310,"n":4,"d":3},{"s":"o","x":8.3e-3,"y":338,"n":4,"d":2},{"s":"o","x":0.0102,"y":355,"n":4,"d":4},{"s":"o","x":0.0153,"y":356,"n":4,"d":3},{"s":"o","x":0.0284,"y":365,"n":4,"d":4},{"s":"o","x":0.043,"y":356,"n":4,"d":5},{"s":"o","x":0.056,"y":348,"n":5,"d":5},{"s":"o","x":0.127,"y":365,"n":5,"d":5},{"s":"o","x":0.12,"y":344,"n":5,"d":6},{"s":"o","x":0.205,"y":343,"n":5,"d":3},{"s":"o","x":0.0175,"y":316,"n":5,"d":5},{"s":"o","x":0.025,"y":310,"n":5,"d":5},
{"s":"o","x":2.9e-4,"y":305,"n":2,"d":2},{"s":"o","x":3.6e-4,"y":291,"n":3,"d":2},{"s":"o","x":2.5e-4,"y":293,"n":2,"d":3},{"s":"o","x":6.5e-4,"y":298,"n":3,"d":2},{"s":"o","x":1.15e-3,"y":285,"n":4,"d":3},{"s":"o","x":2.0e-3,"y":304,"n":4,"d":2},{"s":"o","x":2.5e-3,"y":306,"n":4,"d":2},{"s":"o","x":7.3e-3,"y":297,"n":4,"d":2},{"s":"o","x":9.7e-3,"y":286,"n":4,"d":3},{"s":"o","x":0.0216,"y":298,"n":4,"d":3},{"s":"o","x":0.025,"y":302,"n":5,"d":3},{"s":"o","x":0.056,"y":305,"n":5,"d":5},{"s":"o","x":0.07,"y":299,"n":5,"d":5},{"s":"o","x":0.127,"y":294,"n":5,"d":5},{"s":"o","x":0.29,"y":297,"n":5,"d":4},{"s":"o","x":0.37,"y":294,"n":5,"d":3},{"s":"o","x":0.23,"y":303,"n":5,"d":6},{"s":"o","x":0.046,"y":294,"n":4,"d":3},{"s":"o","x":0.5,"y":298,"n":5,"d":3},{"s":"o","x":0.45,"y":282,"n":5,"d":4},
{"s":"o","x":0.065,"y":360,"n":5,"d":5},{"s":"o","x":0.085,"y":350,"n":5,"d":6},{"s":"o","x":0.1,"y":355,"n":5,"d":5},{"s":"o","x":0.16,"y":360,"n":5,"d":5},{"s":"o","x":0.23,"y":350,"n":5,"d":4},{"s":"o","x":0.27,"y":340,"n":5,"d":5},{"s":"o","x":0.18,"y":300,"n":5,"d":5},{"s":"o","x":0.1,"y":300,"n":5,"d":6},{"s":"o","x":0.035,"y":290,"n":5,"d":5},{"s":"o","x":0.04,"y":275,"n":5,"d":4},{"s":"o","x":0.09,"y":275,"n":5,"d":5},{"s":"o","x":0.06,"y":290,"n":5,"d":6},{"s":"o","x":0.25,"y":270,"n":5,"d":4},{"s":"o","x":0.38,"y":300,"n":5,"d":5},{"s":"o","x":0.015,"y":290,"n":4,"d":3},{"s":"o","x":0.012,"y":260,"n":5,"d":3},{"s":"o","x":0.02,"y":270,"n":4,"d":4},{"s":"o","x":0.5,"y":265,"n":5,"d":4},{"s":"o","x":0.22,"y":240,"n":5,"d":5},{"s":"o","x":0.28,"y":255,"n":5,"d":4},{"s":"o","x":0.03,"y":222,"n":5,"d":3},{"s":"o","x":0.045,"y":218,"n":5,"d":3},
{"s":"o","x":2.9e-4,"y":264,"n":3,"d":3},{"s":"o","x":2.8e-4,"y":245,"n":3,"d":2},{"s":"o","x":2.8e-4,"y":231,"n":3,"d":2},{"s":"o","x":6.2e-4,"y":267,"n":3,"d":3},{"s":"o","x":3.9e-4,"y":273,"n":3,"d":2},{"s":"o","x":1.73e-3,"y":267,"n":4,"d":4},{"s":"o","x":3.4e-3,"y":271,"n":3,"d":3},{"s":"o","x":4.5e-3,"y":262,"n":4,"d":3},{"s":"o","x":9.4e-3,"y":267,"n":4,"d":3},{"s":"o","x":0.01,"y":250,"n":5,"d":3},{"s":"o","x":0.0248,"y":265,"n":4,"d":4},{"s":"o","x":0.0325,"y":245,"n":5,"d":6},{"s":"o","x":0.036,"y":246,"n":5,"d":6},{"s":"o","x":0.052,"y":270,"n":5,"d":5},{"s":"o","x":0.074,"y":268,"n":5,"d":5},{"s":"o","x":0.12,"y":250,"n":5,"d":3},{"s":"o","x":0.167,"y":239,"n":5,"d":4},{"s":"o","x":0.2,"y":258,"n":5,"d":5},{"s":"o","x":0.15,"y":261,"n":5,"d":4},{"s":"o","x":0.049,"y":226,"n":5,"d":2},{"s":"o","x":0.0248,"y":206,"n":6,"d":2},{"s":"o","x":0.033,"y":204,"n":5,"d":3},{"s":"o","x":0.31,"y":206,"n":5,"d":4},
{"s":"o","x":3.67e-3,"y":171,"n":5,"d":3},{"s":"o","x":4.3e-3,"y":166,"n":5,"d":3},{"s":"o","x":5.0e-3,"y":168,"n":5,"d":3},{"s":"o","x":6.0e-3,"y":173,"n":4,"d":3},{"s":"o","x":7.5e-3,"y":175,"n":4,"d":4},{"s":"o","x":8.4e-3,"y":166,"n":3,"d":5},{"s":"o","x":0.0105,"y":173,"n":5,"d":2},{"s":"o","x":3.3e-3,"y":166,"n":4,"d":3},{"s":"o","x":0.04,"y":171,"n":5,"d":4},{"s":"o","x":0.049,"y":163,"n":3,"d":4},{"s":"o","x":0.11,"y":175,"n":5,"d":4},{"s":"o","x":0.46,"y":166,"n":5,"d":6},
{"s":"o","x":4.0e-4,"y":132,"n":1,"d":2},{"s":"o","x":2.1e-4,"y":131,"n":2,"d":2},{"s":"o","x":2.55e-4,"y":100,"n":3,"d":3},
{"s":"o","x":0.157,"y":91,"n":5,"d":5},{"s":"o","x":0.31,"y":98,"n":5,"d":6},{"s":"o","x":0.35,"y":91,"n":5,"d":6},{"s":"o","x":0.41,"y":91,"n":5,"d":6},{"s":"o","x":0.33,"y":130,"n":5,"d":6},{"s":"o","x":0.3,"y":124,"n":5,"d":6},{"s":"o","x":0.33,"y":149,"n":5,"d":6},
{"s":"o","x":0.0102,"y":51,"n":4,"d":3},{"s":"o","x":0.0304,"y":57,"n":3,"d":5},
{"s":"o","x":2.1e-4,"y":67,"n":3,"d":3},{"s":"o","x":2.2e-4,"y":51,"n":3,"d":3},{"s":"o","x":2.7e-4,"y":75,"n":3,"d":2},{"s":"o","x":3.2e-4,"y":62,"n":3,"d":3},{"s":"o","x":4.0e-4,"y":67,"n":3,"d":3},{"s":"o","x":4.7e-4,"y":59,"n":3,"d":4},{"s":"o","x":6.0e-4,"y":65,"n":3,"d":2},{"s":"o","x":7.6e-4,"y":70,"n":3,"d":3},{"s":"o","x":9.5e-4,"y":62,"n":3,"d":4},{"s":"o","x":1.1e-3,"y":67,"n":3,"d":3},{"s":"o","x":1.4e-3,"y":59,"n":3,"d":3},{"s":"o","x":1.6e-3,"y":65,"n":3,"d":4},{"s":"o","x":2.1e-3,"y":45,"n":4,"d":2},{"s":"o","x":3.8e-4,"y":57,"n":3,"d":3},{"s":"o","x":5.6e-4,"y":55,"n":3,"d":3},{"s":"o","x":2.5e-4,"y":42,"n":3,"d":2},{"s":"o","x":8.5e-4,"y":55,"n":3,"d":3}
]
},
"resolve":{"scale":{"x":"independent","y":"independent","fill":"independent","stroke":"independent","size":"independent","fillOpacity":"independent","color":"independent","strokeDash":"independent"}},
"spacing":3,
"hconcat":[
 {"spacing":7,
  "resolve":{"scale":{"x":"independent","y":"independent","fill":"independent","stroke":"independent","size":"independent","fillOpacity":"independent","color":"independent","strokeDash":"independent"}},
  "hconcat":[
  {"spacing":7,
   "resolve":{"scale":{"x":"independent","y":"independent","fill":"independent","stroke":"independent","size":"independent","fillOpacity":"independent","color":"independent","strokeDash":"independent"}},
   "vconcat":[
   {"width":219,"height":18,"view":{"stroke":null},"data":{"values":[{"t":"AFLUX (spring)"}]},"mark":{"type":"text","fontSize":21,"baseline":"alphabetic","dy":4},"encoding":{"text":{"field":"t"}}},
   {"width":219,"height":67,"data":{"name":"box"},"transform":[{"filter":"datum.c == 'AFLUX'"}],
    "layer":[
     {"mark":{"type":"rule","color":"black","strokeWidth":2},
      "encoding":{"x":{"field":"lo","type":"quantitative","scale":{"type":"log","domain":[1.13e-4,0.873],"nice":false},
        "axis":{"values":[0.0002,0.0003,0.0004,0.0005,0.0006,0.0007,0.0008,0.0009,0.001,0.002,0.003,0.004,0.005,0.006,0.007,0.008,0.009,0.01,0.02,0.03,0.04,0.05,0.06,0.07,0.08,0.09,0.1,0.2,0.3,0.4,0.5,0.6,0.7,0.8],"labels":false,"title":null,"tickSize":{"condition":{"test":"datum.value != 0.001 && datum.value != 0.01 && datum.value != 0.1","value":4},"value":7}}},
       "x2":{"field":"hi"},
       "y":{"field":"s","type":"nominal","scale":{"type":"band","domain":["ocean","sea ice"],"paddingInner":0,"paddingOuter":0},"axis":{"title":null,"tickSize":7,"labelPadding":9}}}},
     {"mark":{"type":"tick","color":"black","thickness":2,"size":17},"encoding":{"x":{"field":"lo","type":"quantitative"},"y":{"field":"s","type":"nominal"}}},
     {"mark":{"type":"tick","color":"black","thickness":2,"size":17},"encoding":{"x":{"field":"hi","type":"quantitative"},"y":{"field":"s","type":"nominal"}}},
     {"mark":{"type":"bar","stroke":"black","strokeWidth":2,"size":29,"opacity":1},"encoding":{"x":{"field":"q1","type":"quantitative"},"x2":{"field":"q3"},"y":{"field":"s","type":"nominal"},"fill":{"field":"s","type":"nominal","scale":{"domain":["ocean","sea ice"],"range":["#0000ff","#ff0000"]},"legend":null}}},
     {"mark":{"type":"tick","color":"#808080","thickness":2,"size":29,"opacity":1},"encoding":{"x":{"field":"med","type":"quantitative"},"y":{"field":"s","type":"nominal"}}},
     {"data":{"values":[{}]},"mark":{"type":"text","align":"left","baseline":"middle","dx":3,"dy":-7},"encoding":{"x":{"datum":1.13e-4,"type":"quantitative"},"y":{"datum":"ocean","type":"nominal"},"text":{"value":"a)"}}}
    ]},
   {"width":219,"height":366,
    "layer":[
     {"data":{"name":"cpts"},"mark":{"type":"point","shape":"circle","filled":true,"opacity":1,"strokeWidth":1.5,"strokeOpacity":0.6,"clip":true},
      "encoding":{
       "x":{"field":"x","type":"quantitative","scale":{"type":"log","domain":[1.13e-4,0.873],"nice":false},
        "axis":{"values":[0.0002,0.0003,0.0004,0.0005,0.0006,0.0007,0.0008,0.0009,0.001,0.002,0.003,0.004,0.005,0.006,0.007,0.008,0.009,0.01,0.02,0.03,0.04,0.05,0.06,0.07,0.08,0.09,0.1,0.2,0.3,0.4,0.5,0.6,0.7,0.8],"labelExpr":"datum.value == 0.001 ? '10⁻³' : datum.value == 0.01 ? '10⁻²' : datum.value == 0.1 ? '10⁻¹' : ''","tickSize":{"condition":{"test":"datum.value != 0.001 && datum.value != 0.01 && datum.value != 0.1","value":4},"value":7},"labelOverlap":false,"labelPadding":5,"title":"CWC (g m⁻³)","titlePadding":13}},
       "y":{"field":"y","type":"quantitative","scale":{"domain":[0,599],"nice":false,"zero":false},"axis":{"values":[0,100,200,300,400,500],"title":"Altitude (m)","tickSize":7,"labelPadding":9,"titlePadding":9}},
       "fill":{"field":"s","type":"nominal","scale":{"domain":["i","o"],"range":["#ff0000","#0000ff"]},"legend":null},
       "stroke":{"field":"s","type":"nominal","scale":{"domain":["i","o"],"range":["#ff0000","#0000ff"]},"legend":null},
       "size":{"field":"n","type":"quantitative","scale":{"domain":[1,2,3,4,5,6],"range":[24,57,104,189,269,363],"zero":false,"nice":false},"legend":null},
       "fillOpacity":{"field":"d","type":"quantitative","scale":{"domain":[1,6],"range":[0,0.5],"zero":false,"nice":false},"legend":null}}},
     {"data":{"values":[{}]},"mark":{"type":"text","align":"left","baseline":"top","dx":3,"dy":4},"encoding":{"x":{"datum":1.13e-4,"type":"quantitative"},"y":{"datum":599,"type":"quantitative"},"text":{"value":"c)"}}}
    ]}
   ]},
  {"spacing":2,
   "resolve":{"scale":{"x":"independent","y":"independent","fill":"independent","stroke":"independent","size":"independent","fillOpacity":"independent","color":"independent","strokeDash":"independent"}},
   "vconcat":[
   {"spacing":7,
    "resolve":{"scale":{"x":"independent","y":"independent","fill":"independent","stroke":"independent","size":"independent","fillOpacity":"independent","color":"independent","strokeDash":"independent"}},
    "vconcat":[
    {"width":221,"height":18,"view":{"stroke":null},"data":{"values":[{"t":"MOSAiC-ACA (summer)"}]},"mark":{"type":"text","fontSize":21,"baseline":"alphabetic","dy":4},"encoding":{"text":{"field":"t"}}},
    {"width":221,"height":67,"data":{"name":"box"},"transform":[{"filter":"datum.c == 'MOSAiC'"}],
     "layer":[
      {"mark":{"type":"rule","color":"black","strokeWidth":2},
       "encoding":{"x":{"field":"lo","type":"quantitative","scale":{"type":"log","domain":[1.094e-4,0.925],"nice":false},
         "axis":{"values":[0.0002,0.0003,0.0004,0.0005,0.0006,0.0007,0.0008,0.0009,0.001,0.002,0.003,0.004,0.005,0.006,0.007,0.008,0.009,0.01,0.02,0.03,0.04,0.05,0.06,0.07,0.08,0.09,0.1,0.2,0.3,0.4,0.5,0.6,0.7,0.8,0.9],"labels":false,"title":null,"tickSize":{"condition":{"test":"datum.value != 0.001 && datum.value != 0.01 && datum.value != 0.1","value":4},"value":7}}},
        "x2":{"field":"hi"},
        "y":{"field":"s","type":"nominal","scale":{"type":"band","domain":["ocean","sea ice"],"paddingInner":0,"paddingOuter":0},"axis":{"title":null,"labels":false,"tickSize":7}}}},
      {"mark":{"type":"tick","color":"black","thickness":2,"size":17},"encoding":{"x":{"field":"lo","type":"quantitative"},"y":{"field":"s","type":"nominal"}}},
      {"mark":{"type":"tick","color":"black","thickness":2,"size":17},"encoding":{"x":{"field":"hi","type":"quantitative"},"y":{"field":"s","type":"nominal"}}},
      {"mark":{"type":"bar","stroke":"black","strokeWidth":2,"size":29,"opacity":1},"encoding":{"x":{"field":"q1","type":"quantitative"},"x2":{"field":"q3"},"y":{"field":"s","type":"nominal"},"fill":{"field":"s","type":"nominal","scale":{"domain":["ocean","sea ice"],"range":["#0000ff","#ff0000"]},"legend":null}}},
      {"mark":{"type":"tick","color":"#808080","thickness":2,"size":29,"opacity":1},"encoding":{"x":{"field":"med","type":"quantitative"},"y":{"field":"s","type":"nominal"}}},
      {"data":{"values":[{}]},"mark":{"type":"text","align":"left","baseline":"middle","dx":3,"dy":-7},"encoding":{"x":{"datum":1.094e-4,"type":"quantitative"},"y":{"datum":"ocean","type":"nominal"},"text":{"value":"b)"}}}
     ]}
    ]},
   {"spacing":-1,
    "resolve":{"scale":{"x":"independent","y":"independent","fill":"independent","stroke":"independent","size":"independent","fillOpacity":"independent","color":"independent","strokeDash":"independent"}},
    "hconcat":[
    {"width":221,"height":366,
     "layer":[
      {"data":{"name":"dpts"},"mark":{"type":"point","shape":"circle","filled":true,"opacity":1,"strokeWidth":1.5,"strokeOpacity":0.6,"clip":true},
       "encoding":{
        "x":{"field":"x","type":"quantitative","scale":{"type":"log","domain":[1.094e-4,0.925],"nice":false},
         "axis":{"values":[0.0002,0.0003,0.0004,0.0005,0.0006,0.0007,0.0008,0.0009,0.001,0.002,0.003,0.004,0.005,0.006,0.007,0.008,0.009,0.01,0.02,0.03,0.04,0.05,0.06,0.07,0.08,0.09,0.1,0.2,0.3,0.4,0.5,0.6,0.7,0.8,0.9],"labelExpr":"datum.value == 0.001 ? '10⁻³' : datum.value == 0.01 ? '10⁻²' : datum.value == 0.1 ? '10⁻¹' : ''","tickSize":{"condition":{"test":"datum.value != 0.001 && datum.value != 0.01 && datum.value != 0.1","value":4},"value":7},"labelOverlap":false,"labelPadding":5,"title":"CWC (g m⁻³)","titlePadding":13}},
        "y":{"field":"y","type":"quantitative","scale":{"domain":[0,599],"nice":false,"zero":false},"axis":{"values":[0,100,200,300,400,500],"labels":false,"title":null,"tickSize":7}},
        "fill":{"field":"s","type":"nominal","scale":{"domain":["i","o"],"range":["#ff0000","#0000ff"]},"legend":null},
        "stroke":{"field":"s","type":"nominal","scale":{"domain":["i","o"],"range":["#ff0000","#0000ff"]},"legend":null},
        "size":{"field":"n","type":"quantitative","scale":{"domain":[1,2,3,4,5,6],"range":[24,57,104,189,269,363],"zero":false,"nice":false},"legend":null},
        "fillOpacity":{"field":"d","type":"quantitative","scale":{"domain":[1,6],"range":[0,0.5],"zero":false,"nice":false},"legend":null}}},
      {"data":{"values":[{}]},"mark":{"type":"text","align":"left","baseline":"top","dx":2,"dy":4},"encoding":{"x":{"datum":1.094e-4,"type":"quantitative"},"y":{"datum":599,"type":"quantitative"},"text":{"value":"d)"}}}
     ]},
    {"width":117,"height":366,"data":{"name":"tprof"},
     "layer":[
      {"transform":[{"filter":"datum.camp == 'AFLUX'"}],"mark":{"type":"area","orient":"horizontal","fill":"#d6d6d6","stroke":null,"opacity":1},
       "encoding":{
        "y":{"field":"alt","type":"quantitative","scale":{"domain":[0,599],"nice":false,"zero":false},"axis":{"values":[0,100,200,300,400,500],"labels":false,"title":null,"tickSize":7}},
        "x":{"field":"p25","type":"quantitative","scale":{"domain":[-23.8,4.1],"nice":false,"zero":false},"axis":{"values":[-20,-10,0],"labelExpr":"datum.value < 0 ? '-' + abs(datum.value) : '' + datum.value","title":"T (°C)","tickSize":7,"labelPadding":5,"titlePadding":13}},
        "x2":{"field":"p75"}}},
      {"transform":[{"filter":"datum.camp == 'MOSAiC-ACA'"}],"mark":{"type":"area","orient":"horizontal","fill":"#d6d6d6","stroke":null,"opacity":1},
       "encoding":{
        "y":{"field":"alt","type":"quantitative"},
        "x":{"field":"p25","type":"quantitative"},
        "x2":{"field":"p75"}}},
      {"mark":{"type":"line","color":"#7f7f7f","strokeDash":[6,3],"strokeWidth":2},"encoding":{"y":{"field":"alt","type":"quantitative"},"x":{"field":"p25","type":"quantitative"},"detail":{"field":"camp"},"order":{"field":"alt","type":"quantitative"}}},
      {"mark":{"type":"line","color":"#7f7f7f","strokeDash":[6,3],"strokeWidth":2},"encoding":{"y":{"field":"alt","type":"quantitative"},"x":{"field":"p75","type":"quantitative"},"detail":{"field":"camp"},"order":{"field":"alt","type":"quantitative"}}},
      {"mark":{"type":"line","strokeWidth":2},"encoding":{"y":{"field":"alt","type":"quantitative"},"x":{"field":"med","type":"quantitative"},"color":{"field":"camp","type":"nominal","scale":{"domain":["AFLUX","MOSAiC-ACA"],"range":["#66a61e","#e6ab02"]},"legend":null},"order":{"field":"alt","type":"quantitative"}}},
      {"data":{"values":[{}]},"mark":{"type":"text","align":"left","baseline":"top","dx":3,"dy":4},"encoding":{"x":{"datum":-23.8,"type":"quantitative"},"y":{"datum":599,"type":"quantitative"},"text":{"value":"e)"}}}
     ]}
    ]}
   ]}
  ]},
 {"spacing":4,
  "resolve":{"scale":{"x":"independent","y":"independent","fill":"independent","stroke":"independent","size":"independent","fillOpacity":"independent","color":"independent","strokeDash":"independent"}},
  "vconcat":[
  {"width":268,"height":79,"view":{"stroke":"#333333","strokeWidth":1.5,"cornerRadius":5},
   "data":{"values":[{"k":"Median: T AFLUX"},{"k":"Median: T MOSAiC-ACA"},{"k":"25/75 Perc."}]},
   "layer":[
    {"mark":{"type":"point","shape":"stroke","size":1369,"strokeWidth":2,"opacity":1},
     "encoding":{
      "x":{"datum":"sym","type":"nominal","scale":{"type":"point","domain":["sym","lab"],"range":[24,58],"padding":0},"axis":null},
      "y":{"field":"k","type":"nominal","scale":{"type":"point","domain":["Median: T AFLUX","Median: T MOSAiC-ACA","25/75 Perc."],"range":[14,64],"padding":0},"axis":null},
      "stroke":{"field":"k","type":"nominal","scale":{"domain":["Median: T AFLUX","Median: T MOSAiC-ACA","25/75 Perc."],"range":["#66a61e","#e6ab02","#7f7f7f"]},"legend":null},
      "strokeDash":{"field":"k","type":"nominal","scale":{"domain":["Median: T AFLUX","Median: T MOSAiC-ACA","25/75 Perc."],"range":[[1,0],[1,0],[6,3]]},"legend":null}}},
    {"mark":{"type":"text","align":"left","baseline":"middle"},
     "encoding":{"x":{"datum":"lab","type":"nominal"},"y":{"field":"k","type":"nominal"},"text":{"field":"k"}}}
   ]},
  {"width":149,"height":229,"view":{"stroke":"#333333","strokeWidth":1.5,"cornerRadius":5},
   "data":{"values":[{"k":"< 0.01","n":1},{"k":"0.01 - 0.1","n":2},{"k":"0.1 - 1","n":3},{"k":"1 - 10","n":4},{"k":"10 - 100","n":5},{"k":"> 100","n":6}]},
   "layer":[
    {"mark":{"type":"point","shape":"circle","filled":true,"opacity":1,"fill":"#ababab","stroke":"#8c8c8c","strokeWidth":1.5},
     "encoding":{
      "x":{"datum":"sym","type":"nominal","scale":{"type":"point","domain":["sym","lab"],"range":[25,58],"padding":0},"axis":null},
      "y":{"field":"k","type":"nominal","scale":{"type":"point","domain":["head","< 0.01","0.01 - 0.1","0.1 - 1","1 - 10","10 - 100","> 100"],"range":[16,215],"padding":0},"axis":null},
      "size":{"field":"n","type":"quantitative","scale":{"domain":[1,2,3,4,5,6],"range":[24,57,104,189,269,363],"zero":false,"nice":false},"legend":null}}},
    {"mark":{"type":"text","align":"left","baseline":"middle"},
     "encoding":{"x":{"datum":"lab","type":"nominal"},"y":{"field":"k","type":"nominal"},"text":{"field":"k"}}},
    {"data":{"values":[{"h":"N (cm⁻³)"}]},"mark":{"type":"text","align":"left","baseline":"middle"},
     "encoding":{"x":{"datum":"lab","type":"nominal"},"y":{"datum":"head","type":"nominal"},"text":{"field":"h"}}}
   ]},
  {"width":290,"height":187,"view":{"stroke":"#333333","strokeWidth":1.5,"cornerRadius":5},
   "data":{"values":[{"k":"1","d":1},{"k":"1 - 5","d":2},{"k":"5 - 10","d":3},{"k":"10 - 20","d":4},{"k":"20 - 60","d":5},{"k":"> 60","d":6}]},
   "layer":[
    {"mark":{"type":"point","shape":"circle","filled":true,"opacity":1,"fill":"#ff0000","stroke":"#ff0000","strokeOpacity":0.6,"strokeWidth":1.5,"size":189},
     "encoding":{
      "x":{"datum":"i","type":"nominal","scale":{"type":"point","domain":["i","a","b","o","c","lab"],"range":[39,171.5],"padding":0},"axis":null},
      "y":{"field":"k","type":"nominal","scale":{"type":"point","domain":["head","1","1 - 5","5 - 10","10 - 20","20 - 60","> 60"],"range":[18,168],"padding":0},"axis":null},
      "fillOpacity":{"field":"d","type":"quantitative","scale":{"domain":[1,6],"range":[0,0.5],"zero":false,"nice":false},"legend":null}}},
    {"mark":{"type":"point","shape":"circle","filled":true,"opacity":1,"fill":"#0000ff","stroke":"#0000ff","strokeOpacity":0.6,"strokeWidth":1.5,"size":189},
     "encoding":{
      "x":{"datum":"o","type":"nominal"},
      "y":{"field":"k","type":"nominal"},
      "fillOpacity":{"field":"d","type":"quantitative","legend":null}}},
    {"mark":{"type":"text","align":"left","baseline":"middle"},
     "encoding":{"x":{"datum":"lab","type":"nominal"},"y":{"field":"k","type":"nominal"},"text":{"field":"k"}}},
    {"data":{"values":[{"h":"Sea ice","c":"i"},{"h":"Ocean","c":"o"}]},"mark":{"type":"text","align":"center","baseline":"middle","dx":5.5},
     "encoding":{"x":{"field":"c","type":"nominal"},"y":{"datum":"head","type":"nominal"},"text":{"field":"h"}}},
    {"data":{"values":[{"h":"Duration (s)"}]},"mark":{"type":"text","align":"left","baseline":"middle"},
     "encoding":{"x":{"datum":"lab","type":"nominal"},"y":{"datum":"head","type":"nominal"},"text":{"field":"h"}}}
   ]}
  ]}
]
}
